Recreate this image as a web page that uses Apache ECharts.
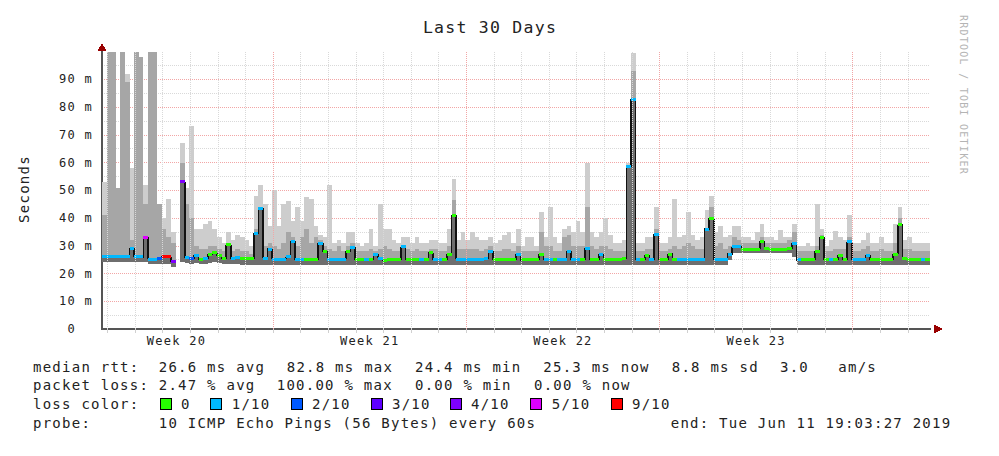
<!DOCTYPE html>
<html>
<head>
<meta charset="utf-8">
<script src="https://cdn.jsdelivr.net/npm/echarts@6/dist/echarts.min.js"></script>
<style>
html,body{margin:0;padding:0;background:#fff;}
#c{width:999px;height:456px;}
#c text{letter-spacing:1.25px;white-space:pre;}
#c path,#c rect{shape-rendering:crispEdges;}
</style>
</head>
<body>
<div id="c"></div>
<script>
// ---------- data (one sample = 4 hours, 6 samples per day, 30 days) ----------
const samplesPerDay = 6;

const smokeHiMs = [
 53,100,100,51,100,92,58,100,98,52,
 100,100,45,40,47,35,null,67,51,73,
 36,36,38,39,36,33,31,35,32,34,
 33,32,30,48,52,45,37,50,37,45,
 46,39,44,39,47.6,47,37,34,33,52,
 31,32,31,35,35,31,30,31,36,30,
 45,36,36,32,31,33,33,31,33,31,
 31,32,32,31,31,36,54,32,35,32,
 35,33,32,32,33,31,32,34,35,31,
 36,30,33,33,30,42,33,44,33,31,
 36,37,35,39,35,60,35,33,35,40,
 34,31,31,32,60,99.6,31,31,33,33,
 44,31,31,33,47,33,34,42,34,32,
 33,43,48,35,37,33,34,37,37,33,
 33,32,35,38,33,33,32,35.7,33,33,
 38,30,30,31,30,45,36,30,32,35.5,
 33,32,41,31,31,32,34.5,31,31,33,
 31,31,38,44,32,33,31,31,31,31
];

const smokeMidMs = [
 41,100,100,51,100,89,32,100,98,45,
 100,100,45,36,33,31,null,60,45,40,
 30,29,29,30,30,29,28,31,28,29,
 28,28,27,36,44,30,31,30,29,31,
 35,33,30,33,36,31,33,32,30,29,
 28,30,28,30,31,28,28,28,29,28,
 29,30,29,28,28,30,29,28,29,28,
 28,29,29,28,28,30,46.5,29,29,29,
 29,29,28,29,30,28,28,29,29,28,
 30,28,28,28,28,35,30,30,28,28,
 33,34,30,30,30,44,30,29,30,30,
 29,28,28,28,58,93,28,28,29,29,
 36,28,28,29,30,29,30,31,30,29,
 29,36,44,30,31,29,30,33,32,31,
 31,31,31,33,31,31,31,31,31,32,
 35,28,28,28,28,30,34,28,28,29,
 29,29,33,28,28,29,30,28,28,29,
 28,28,31,40,29,29,28,28,28,28
];

const smokeLoMs = [
 24,24,24,24,24,24,24,24,24,24,
 23.5,23.5,23.5,23.5,23.5,22.5,null,24,23.8,23.5,
 23.8,23.5,23.5,23.8,24,23.8,23.5,23.5,23.5,23.5,
 23.2,23.2,23.2,23.2,23.2,23.2,23.2,23.2,23.2,23.2,
 23.2,23.2,23.2,23.2,23.2,23.2,23.2,23.2,23.2,23.2,
 23.2,23.2,23.2,23.2,23.2,23.2,23.2,23.2,23.2,23.2,
 23.2,23.2,23.2,23.2,23.2,23.2,23.2,23.2,23.2,23.2,
 23.2,23.2,23.2,23.2,23.2,23.2,23.2,23.2,23.2,23.2,
 23.2,23.2,23.2,23.2,23.2,23.2,23.2,23.2,23.2,23.2,
 23.2,23.2,23.2,23.2,23.2,23.2,23.2,23.2,23.2,23.2,
 23.2,23.2,23.2,23.2,23.2,23.2,23.2,23.2,23.2,23.2,
 23.2,23.2,23.2,23.2,23.2,23.2,23.2,23.2,23.2,23.2,
 23.2,23.2,23.2,23.2,23.2,23.2,23.2,23.2,23.2,23.2,
 23.2,23.2,23.2,23.2,23.2,23.2,25,27.3,27.3,27.3,
 27.3,27.3,27.3,27.3,27.3,27.3,27.3,27.3,27.3,27.3,
 26,23.2,23.2,23.2,23.2,23.2,23.2,23.2,23.2,23.2,
 23.2,23.2,23.2,23.2,23.2,23.2,23.2,23.2,23.2,23.2,
 23.2,23.2,23.2,23.2,23.2,23.2,23.2,23.2,23.2,23.2
];

const medianMs = [
 26,26,26,26,26,26,29,26,26,33,
 25.2,25.2,25.5,26,26,24.4,null,53,25.8,25.5,
 26.5,25.2,25.3,26.8,27.4,26.5,25.5,30.3,25.5,25.6,
 25.3,25.3,25.3,34.6,43.6,25.5,28.8,25.2,25.2,25.2,
 26,31.5,25,25,25,25,25.2,31,28,25.1,
 25.1,25.1,25.1,28,29.5,25,24.9,25,25,27,
 25.5,24.8,24.9,25,25,29.6,25,25,25.2,25,
 25,27.4,25,25,25,27,41,25.2,25.2,25.2,
 25.2,25.2,25.2,25.5,28,25,24.9,24.9,24.9,24.9,
 27,24.9,24.9,24.9,24.9,27,25,25,25,25,
 25,28,25,25,25,29,25,25,26.7,25,
 25,25,25,25.5,58.5,82.8,25,25,26.5,25,
 34,25,25,27,25,25.2,25,25,25,25,
 25,36,40,25,25,25,27,29.7,29.7,28.8,
 28.8,28.8,28.8,31.5,29,28.8,28.8,28.8,28.8,29,
 31,24.9,24.9,24.9,24.9,28,33,25,25,25,
 26.5,25,31.5,25,25,25,26.5,25,25,25,
 25,25,27,37.5,25.5,25,25,25,25,25
];

// pings lost out of 10 for each sample
const lossCount = [
 1,1,1,1,1,1,1,1,1,5,
 1,1,2,9,9,4,null,4,1,2,
 1,0,1,0,0,0,0,0,1,1,
 0,0,0,1,1,1,1,1,1,1,
 1,1,1,1,0,0,0,1,0,1,
 1,1,1,0,1,0,0,1,0,1,
 1,0,0,0,0,1,0,0,0,1,
 0,0,1,1,0,0,0,1,1,1,
 1,1,1,1,1,0,0,0,0,0,
 1,0,0,0,0,0,1,1,0,1,
 1,1,1,1,0,1,0,0,1,0,
 0,0,0,0,1,1,1,0,0,1,
 1,0,0,0,0,1,1,1,1,1,
 1,1,0,1,1,1,1,1,1,0,
 0,0,0,0,0,0,0,0,0,0,
 1,1,0,0,0,0,0,0,1,0,
 0,0,1,1,1,1,1,0,0,0,
 0,0,0,0,0,0,0,0,1,0
];

const lossLegend = ['0','1/10','2/10','3/10','4/10','5/10','9/10'];
const lossLegendCount = [0,1,2,3,4,5,9];

const weekLabels = ['Week 20','Week 21','Week 22','Week 23'];
const weekLabelDays = [2.7, 9.7, 16.7, 23.7];
const weekLineDays = [6.2, 13.2, 20.2, 27.2];
const dayLineDays = [0.2,1.2,2.2,3.2,4.2,5.2,6.2,7.2,8.2,9.2,10.2,11.2,12.2,13.2,14.2,
  15.2,16.2,17.2,18.2,19.2,20.2,21.2,22.2,23.2,24.2,25.2,26.2,27.2,28.2,29.2];
const yTicksMs = [0,10,20,30,40,50,60,70,80,90];

// ---------- styling ----------
const FONT = '"DejaVu Sans Mono", "Liberation Mono", monospace';
const TXT = '#222';
const lossColors = {0:'#26ff00',1:'#00b8ff',2:'#0059ff',3:'#5e00ff',4:'#7e00ff',5:'#dd00ff',9:'#ff0000'};

const smokeData = [], medLineData = [], medSegData = [];
for (let i = 0; i < medianMs.length; i++) {
  const t0 = i / samplesPerDay, t1 = (i + 1) / samplesPerDay;
  if (medianMs[i] == null) { medLineData.push([(t0 + t1) / 2, '-']); continue; }
  smokeData.push([t0, t1, smokeLoMs[i], smokeMidMs[i], smokeHiMs[i], medianMs[i]]);
  medLineData.push([(t0 + t1) / 2, medianMs[i]]);
  medSegData.push([t0, t1, medianMs[i], lossCount[i]]);
}

function txt(x, y, s, size, extra) {
  return Object.assign({
    type: 'text', x: x, y: y, silent: true,
    style: { text: s, font: size + 'px ' + FONT, fill: TXT,
      align: 'left', textAlign: 'left', verticalAlign: 'middle', textVerticalAlign: 'middle' }
  }, extra || {});
}

const graphics = [];
// title
graphics.push(txt(490, 27, 'Last 30 Days', 16.5, {style:{text:'Last 30 Days', font:'16.5px '+FONT, fill:TXT, align:'center', textAlign:'center', verticalAlign:'middle', textVerticalAlign:'middle'}}));
// y axis title
graphics.push({type:'text', x:24, y:189, rotation:Math.PI/2, silent:true,
  style:{text:'Seconds', font:'14px '+FONT, fill:TXT, align:'center', textAlign:'center', verticalAlign:'middle', textVerticalAlign:'middle'}});
// side credit
graphics.push({type:'text', x:963, y:15, rotation:-Math.PI/2, silent:true,
  style:{text:'RRDTOOL / TOBI OETIKER', font:'10px '+FONT, fill:'#b4b4b4', align:'left', textAlign:'left', verticalAlign:'middle', textVerticalAlign:'middle'}});

// legend rows
const rowY = [366.5, 385, 404, 423];
const rows = [
  [[33,'median rtt:'],[158.7,'26.6 ms avg'],[286.7,'82.8 ms max'],[415,'24.4 ms min'],[543.3,'25.3 ms now'],[671.7,'8.8 ms sd'],[780,'3.0'],[838.3,'am/s']],
  [[33,'packet loss:'],[158.7,'2.47 % avg'],[276.7,'100.00 % max'],[415,'0.00 % min'],[534,'0.00 % now']],
  [[33,'loss color:']],
  [[33,'probe:'],[158.7,'10 ICMP Echo Pings (56 Bytes) every 60s'],[670.7,'end: Tue Jun 11 19:03:27 2019']]
];
rows.forEach((r, k) => r.forEach(([x, s]) => graphics.push(txt(x, rowY[k], s, 14))));
const boxX = [160, 210.7, 291, 371, 450, 530.7, 611];
lossLegend.forEach((lab, k) => {
  graphics.push({type:'rect', silent:true, shape:{x:boxX[k], y:rowY[2]-5.5, width:11, height:11},
    style:{fill:lossColors[lossLegendCount[k]], stroke:'#000', lineWidth:1}});
  graphics.push(txt(boxX[k] + 21, rowY[2], lab, 14));
});
// axis arrows
graphics.push({type:'polygon', silent:true, shape:{points:[[102,43],[97.5,51],[106.5,51]]}, style:{fill:'#990000'}});
graphics.push({type:'polygon', silent:true, shape:{points:[[943,329],[934,324.5],[934,333.5]]}, style:{fill:'#990000'}});

const chart = echarts.init(document.getElementById('c'), null, {renderer:'svg'});
chart.setOption({
  animation: false,
  backgroundColor: '#fff',
  textStyle: { fontFamily: FONT },
  grid: { left: 102, top: 51.6, right: 69, bottom: 127 },
  xAxis: {
    type: 'value', min: 0, max: 30,
    axisLine: { show: true, lineStyle: { color: '#555', width: 2 } },
    splitLine: { show: false },
    axisTick: { show: true, customValues: dayLineDays, length: 4, lineStyle: { color: '#d0d0d0' } },
    axisLabel: {
      customValues: weekLabelDays, margin: 6, fontFamily: FONT, fontSize: 12, color: TXT,
      formatter: v => { const k = weekLabelDays.findIndex(d => Math.abs(d - v) < 0.01); return k >= 0 ? weekLabels[k] : ''; }
    }
  },
  yAxis: {
    type: 'value', min: 0, max: 100, interval: 10,
    axisLine: { show: true, lineStyle: { color: '#555', width: 2 } },
    axisTick: { show: false },
    axisLabel: {
      margin: 9, fontFamily: FONT, fontSize: 12, color: TXT,
      formatter: v => { const k = yTicksMs.indexOf(v); if (k < 0) return ''; return v === 0 ? '0  ' : v + ' m'; }
    },
    splitLine: { show: true, showMaxLine: false, showMinLine: false, lineStyle: { color: '#f2a6a6', width: 1, type: [1, 1] } },
    minorTick: { show: false, splitNumber: 2 },
    minorSplitLine: { show: true, lineStyle: { color: '#d9d9d9', width: 1, type: [1, 1] } }
  },
  graphic: graphics,
  series: [
    {
      type: 'line', data: [], silent: true, z: 1,
      markLine: {
        silent: true, symbol: ['none', 'none'], label: { show: false }, animation: false,
        data: dayLineDays.map(d => ({ xAxis: d, lineStyle: { color: weekLineDays.includes(d) ? '#f2a6a6' : '#d9d9d9', width: 1, type: [1, 1] } }))
      }
    },
    {
      type: 'custom', name: 'smoke', z: 2, clip: true, silent: true,
      encode: { x: [0, 1], y: [2, 3, 4, 5] },
      data: smokeData,
      renderItem: (params, api) => {
        const t0 = api.value(0), t1 = api.value(1), lo = api.value(2), mid = api.value(3), hi = api.value(4), med = api.value(5);
        const band = (a, b, fill) => {
          const p = api.coord([t0, b]), q = api.coord([t1, a]);
          return { type: 'rect', shape: { x: p[0], y: p[1], width: q[0] - p[0], height: q[1] - p[1] }, style: { fill: fill } };
        };
        return { type: 'group', children: [band(lo, hi, '#cdcdcd'), band(lo, mid, '#a6a6a6'), band(lo, med, '#6e6e6e')] };
      }
    },
    {
      type: 'line', name: 'median', z: 3, silent: true, step: 'middle', symbol: 'none',
      connectNulls: false, data: medLineData,
      lineStyle: { color: '#111', width: 1.5 }
    },
    {
      type: 'custom', name: 'loss', z: 4, clip: true, silent: true,
      encode: { x: [0, 1], y: 2 },
      data: medSegData,
      renderItem: (params, api) => {
        const p = api.coord([api.value(0), api.value(2)]), q = api.coord([api.value(1), api.value(2)]);
        return { type: 'rect', shape: { x: p[0], y: p[1] - 1.5, width: q[0] - p[0], height: 3 }, style: { fill: lossColors[api.value(3)] } };
      }
    }
  ]
});
</script>
</body>
</html>
